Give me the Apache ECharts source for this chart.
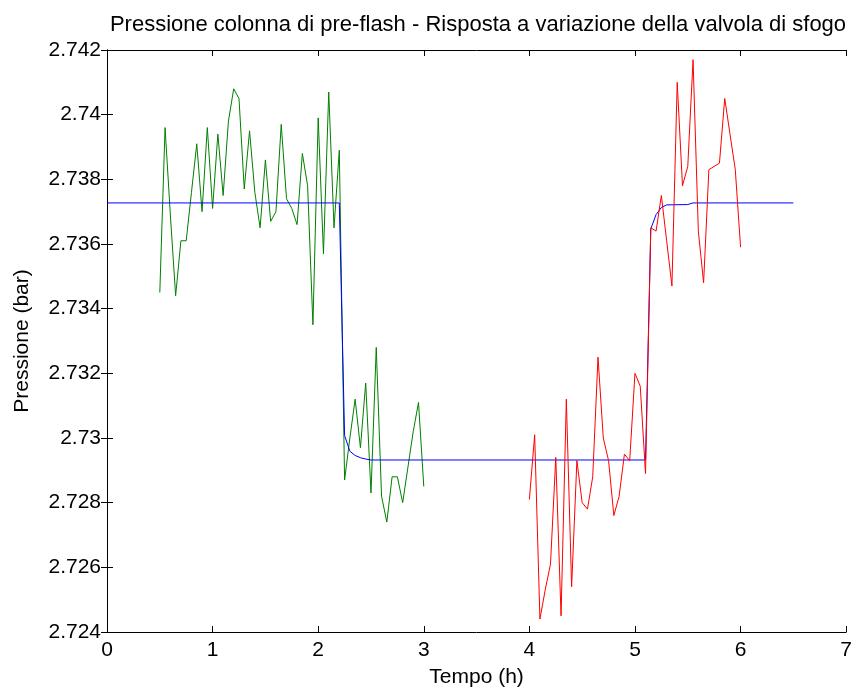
<!DOCTYPE html>
<html>
<head>
<meta charset="utf-8">
<title>Pressione colonna di pre-flash</title>
<script src="https://cdn.jsdelivr.net/npm/echarts@6/dist/echarts.min.js"></script>
<style>
  html, body { margin: 0; padding: 0; background: #ffffff; }
  #chart { width: 855px; height: 693px; }
</style>
</head>
<body>
<div id="chart"></div>
<script>
// Measured column pressure before the setpoint step (green)
const tempoPrima = [
  0.50, 0.55, 0.60, 0.65, 0.70, 0.75, 0.80, 0.85, 0.90, 0.95,
  1.00, 1.05, 1.10, 1.15, 1.20, 1.25, 1.30, 1.35, 1.40, 1.45,
  1.50, 1.55, 1.60, 1.65, 1.70, 1.75, 1.80, 1.85, 1.90, 1.95,
  2.00, 2.05, 2.10, 2.15, 2.20, 2.25, 2.30, 2.35, 2.40, 2.45,
  2.50, 2.55, 2.60, 2.65, 2.70, 2.75, 2.80, 2.85, 2.90, 2.95,
  3.00
];
const pressionePrima = [
  2.7345, 2.7396, 2.7369, 2.7344, 2.7361, 2.7361, 2.7376, 2.7391, 2.7370, 2.7396,
  2.7371, 2.7394, 2.7375, 2.7398, 2.7408, 2.7405, 2.7377, 2.7395, 2.7376, 2.7365,
  2.7386, 2.7367, 2.7370, 2.7397, 2.7374, 2.7371, 2.7366, 2.7388, 2.7378, 2.7335,
  2.7399, 2.7357, 2.7407, 2.7365, 2.7389, 2.7287, 2.7300, 2.7312, 2.7297, 2.7317,
  2.7283, 2.7328, 2.7282, 2.7274, 2.7288, 2.7288, 2.7280, 2.7291, 2.7302, 2.7311,
  2.7285
];

// Measured column pressure after the valve change (red)
const tempoDopo = [
  4.00, 4.05, 4.10, 4.15, 4.20, 4.25, 4.30, 4.35, 4.40, 4.45,
  4.50, 4.55, 4.60, 4.65, 4.70, 4.75, 4.80, 4.85, 4.90, 4.95,
  5.00, 5.05, 5.10, 5.15, 5.20, 5.25, 5.30, 5.35, 5.40, 5.45,
  5.50, 5.55, 5.60, 5.65, 5.70, 5.75, 5.80, 5.85, 5.90, 5.95,
  6.00
];
const pressioneDopo = [
  2.7281, 2.7301, 2.7244, 2.7253, 2.7261, 2.7294, 2.7245, 2.7312, 2.7254, 2.7293,
  2.7280, 2.7278, 2.7288, 2.7325, 2.7300, 2.7293, 2.7276, 2.7282, 2.7295, 2.7293,
  2.7320, 2.7316, 2.7289, 2.7365, 2.7364, 2.7375, 2.7361, 2.7347, 2.7410, 2.7378,
  2.7384, 2.7417, 2.7364, 2.7348, 2.7383, 2.7384, 2.7385, 2.7405, 2.7394, 2.7383,
  2.7359
];

// Model response to the relief valve change (blue)
const tempoModello = [0, 2.20, 2.25, 2.30, 2.35, 2.40, 2.45, 2.50, 5.10, 5.15, 5.20, 5.25, 5.30, 5.50, 5.55, 6.50];
const pressioneModello = [
  2.73727, 2.73727, 2.73008, 2.72959, 2.72946, 2.72939, 2.72935, 2.72932,
  2.72932, 2.73647, 2.73691, 2.73713, 2.73721, 2.73722, 2.73727, 2.73727
];

// Axis ticks
const tickTempo = [0, 1, 2, 3, 4, 5, 6, 7];
const tickPressione = [2.724, 2.726, 2.728, 2.73, 2.732, 2.734, 2.736, 2.738, 2.74, 2.742];

const FONT = "'Liberation Sans', Arial, Helvetica, sans-serif";

function coppie(xs, ys) {
  return xs.map((x, i) => [x, ys[i]]);
}

const xMin = tickTempo[0], xMax = tickTempo[tickTempo.length - 1];
const yMin = tickPressione[0], yMax = tickPressione[tickPressione.length - 1];

const chart = echarts.init(document.getElementById('chart'), null, { renderer: 'canvas' });

const axisLineStyle = { show: true, lineStyle: { color: '#000', width: 1 } };
const tickInside = { show: true, inside: true, length: 6, lineStyle: { color: '#000', width: 1 } };

chart.setOption({
  animation: false,
  backgroundColor: '#ffffff',
  title: {
    text: 'Pressione colonna di pre-flash - Risposta a variazione della valvola di sfogo',
    left: 473,
    top: 9,
    textAlign: 'center',
    textStyle: { fontFamily: FONT, fontSize: 22, fontWeight: 'normal', color: '#000' }
  },
  grid: { left: 107, right: 8, top: 50, bottom: 55, containLabel: false },
  xAxis: [
    {
      type: 'value', position: 'bottom',
      min: xMin, max: xMax, interval: 1,
      name: 'Tempo (h)', nameLocation: 'middle', nameGap: 35,
      nameTextStyle: { fontFamily: FONT, fontSize: 21, color: '#000' },
      axisLine: axisLineStyle, axisTick: tickInside,
      axisLabel: { fontFamily: FONT, fontSize: 21, color: '#000', margin: 8 },
      splitLine: { show: false }
    },
    {
      type: 'value', position: 'top',
      min: xMin, max: xMax, interval: 1,
      axisLine: axisLineStyle, axisTick: tickInside,
      axisLabel: { show: false }, splitLine: { show: false }
    }
  ],
  yAxis: [
    {
      type: 'value', position: 'left',
      min: yMin, max: yMax, interval: 0.002,
      name: 'Pressione (bar)', nameLocation: 'middle', nameGap: 74,
      nameTextStyle: { fontFamily: FONT, fontSize: 21, color: '#000' },
      axisLine: axisLineStyle, axisTick: tickInside,
      axisLabel: {
        fontFamily: FONT, fontSize: 21, color: '#000', margin: 6,
        formatter: v => String(+v.toFixed(3))
      },
      splitLine: { show: false }
    },
    {
      type: 'value', position: 'right',
      min: yMin, max: yMax, interval: 0.002,
      axisLine: axisLineStyle, axisTick: tickInside,
      axisLabel: { show: false }, splitLine: { show: false }
    }
  ],
  series: [
    {
      name: 'misura prima', type: 'line', xAxisIndex: 0, yAxisIndex: 0,
      data: coppie(tempoPrima, pressionePrima),
      showSymbol: false, symbol: 'none',
      lineStyle: { color: '#008000', width: 1 }
    },
    {
      name: 'modello', type: 'line', xAxisIndex: 0, yAxisIndex: 0,
      data: coppie(tempoModello, pressioneModello),
      showSymbol: false, symbol: 'none',
      lineStyle: { color: '#0000ff', width: 1 }
    },
    {
      name: 'misura dopo', type: 'line', xAxisIndex: 0, yAxisIndex: 0,
      data: coppie(tempoDopo, pressioneDopo),
      showSymbol: false, symbol: 'none',
      lineStyle: { color: '#ff0000', width: 1 }
    }
  ]
});
</script>
</body>
</html>
